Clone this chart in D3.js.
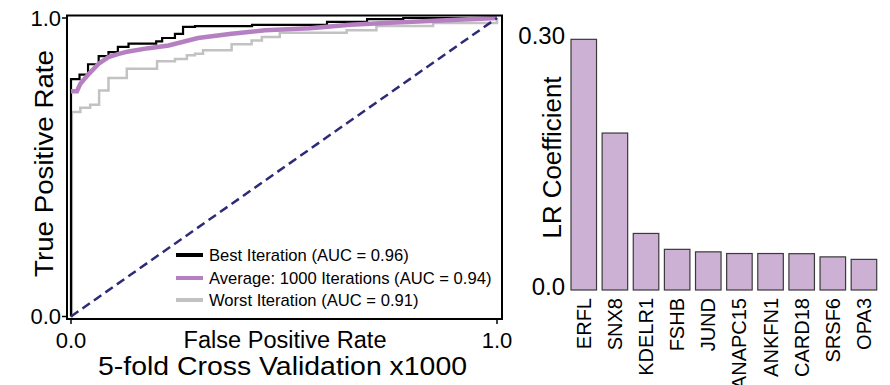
<!DOCTYPE html>
<html>
<head>
<meta charset="utf-8">
<script src="https://cdn.jsdelivr.net/npm/d3@7"></script>
<style>
  body { margin: 0; background: #fff; }
  text { font-family: "Liberation Sans", Arial, Helvetica, sans-serif; fill: #000; }
</style>
</head>
<body>
<div id="chart"></div>
<script>
// ROC curves (false positive rate / true positive rate)
var bestFpr = [0, 0, 0.02, 0.04, 0.065, 0.088, 0.11, 0.135, 0.2, 0.214, 0.244, 0.263, 0.291, 0.425, 0.601, 0.695, 0.78, 1];
var bestTpr = [0, 0.795, 0.81, 0.845, 0.872, 0.886, 0.903, 0.914, 0.922, 0.933, 0.947, 0.97, 0.973, 0.977, 0.987, 0.996, 1, 1];

var avgFpr = [0, 0.014, 0.022, 0.042, 0.065, 0.088, 0.112, 0.135, 0.182, 0.229, 0.298, 0.377, 0.455, 0.561, 0.655, 0.749, 1];
var avgTpr = [0.755, 0.755, 0.78, 0.813, 0.847, 0.869, 0.88, 0.888, 0.899, 0.908, 0.933, 0.947, 0.959, 0.966, 0.977, 0.984, 1];

var worstFpr = [0, 0.002, 0.022, 0.045, 0.066, 0.088, 0.131, 0.202, 0.244, 0.272, 0.291, 0.31, 0.377, 0.424, 0.448, 0.49, 0.647, 0.717, 0.85, 1];
var worstTpr = [0, 0.685, 0.699, 0.709, 0.757, 0.799, 0.83, 0.855, 0.863, 0.875, 0.88, 0.892, 0.912, 0.925, 0.936, 0.951, 0.959, 0.973, 0.983, 1];

var legendLabels = ["Best Iteration (AUC = 0.96)", "Average: 1000 Iterations (AUC = 0.94)", "Worst Iteration (AUC = 0.91)"];

// bar chart
var genes = ["ERFL", "SNX8", "KDELR1", "FSHB", "JUND", "ANAPC15", "ANKFN1", "CARD18", "SRSF6", "OPA3"];
var coefs = [0.299, 0.187, 0.067, 0.048, 0.045, 0.043, 0.043, 0.0428, 0.039, 0.036];
var coefTicks = [0, 0.3];
var coefTickLabels = ["0.0", "0.30"];

var svg = d3.select("#chart")
    .append("svg")
    .attr("width", 890)
    .attr("height", 385);

// ---------- ROC panel ----------
var x = d3.scaleLinear().domain([0, 1]).range([71, 497]);
var y = d3.scaleLinear().domain([0, 1]).range([316.5, 18]);

var roc = svg.append("g");

function pts(fpr, tpr) {
    return fpr.map((f, i) => [f, tpr[i]]);
}

var stepLine = d3.line()
    .x(d => x(d[0]))
    .y(d => y(d[1]))
    .curve(d3.curveStepAfter);

var smoothLine = d3.line()
    .x(d => x(d[0]))
    .y(d => y(d[1]));

roc.append("path")
    .attr("d", stepLine(pts(worstFpr, worstTpr)))
    .attr("fill", "none")
    .attr("stroke", "#c2c2c2")
    .attr("stroke-width", 2.5);

roc.append("path")
    .attr("d", stepLine(pts(bestFpr, bestTpr)))
    .attr("fill", "none")
    .attr("stroke", "#000")
    .attr("stroke-width", 2.2);

roc.append("path")
    .attr("d", smoothLine(pts(avgFpr, avgTpr)))
    .attr("fill", "none")
    .attr("stroke", "#b57fc1")
    .attr("stroke-width", 4.5);

// chance line
roc.append("line")
    .attr("x1", x(0)).attr("y1", y(0))
    .attr("x2", x(1)).attr("y2", y(1))
    .attr("stroke", "#2d2a78")
    .attr("stroke-width", 2.5)
    .attr("stroke-dasharray", "9,5");

// frame
roc.append("rect")
    .attr("x", 67).attr("y", 15.5)
    .attr("width", 435).attr("height", 303.5)
    .attr("fill", "none")
    .attr("stroke", "#000")
    .attr("stroke-width", 2);

// ticks
[0, 1].forEach(function(t) {
    roc.append("line")
        .attr("x1", 62).attr("x2", 67)
        .attr("y1", y(t)).attr("y2", y(t))
        .attr("stroke", "#000").attr("stroke-width", 1.5);
    roc.append("text")
        .attr("x", 61).attr("y", y(t) + 7.5)
        .attr("text-anchor", "end")
        .style("font-size", "22px")
        .text(t.toFixed(1));
    roc.append("line")
        .attr("x1", x(t)).attr("x2", x(t))
        .attr("y1", 319).attr("y2", 324)
        .attr("stroke", "#000").attr("stroke-width", 1.5);
    roc.append("text")
        .attr("x", x(t)).attr("y", 348)
        .attr("text-anchor", "middle")
        .style("font-size", "22px")
        .text(t.toFixed(1));
});

roc.append("text")
    .attr("x", 285).attr("y", 348)
    .attr("text-anchor", "middle")
    .style("font-size", "23px")
    .attr("textLength", 203)
    .attr("lengthAdjust", "spacingAndGlyphs")
    .text("False Positive Rate");

roc.append("text")
    .attr("x", 282.5).attr("y", 375)
    .attr("text-anchor", "middle")
    .style("font-size", "26px")
    .attr("textLength", 369)
    .attr("lengthAdjust", "spacingAndGlyphs")
    .text("5-fold Cross Validation x1000");

roc.append("text")
    .attr("transform", "translate(53,163.5) rotate(-90)")
    .attr("text-anchor", "middle")
    .style("font-size", "25px")
    .attr("textLength", 227)
    .attr("lengthAdjust", "spacingAndGlyphs")
    .text("True Positive Rate");

// legend
var legendColors = ["#000", "#b57fc1", "#c2c2c2"];
var legendY = [255, 278, 300];
legendLabels.forEach(function(lbl, i) {
    roc.append("line")
        .attr("x1", 176).attr("x2", 203)
        .attr("y1", legendY[i]).attr("y2", legendY[i])
        .attr("stroke", legendColors[i])
        .attr("stroke-width", 4);
    roc.append("text")
        .attr("x", 209).attr("y", legendY[i] + 6)
        .style("font-size", "16.6px")
        .text(lbl);
});

// ---------- bar panel ----------
var xBand = d3.scaleBand()
    .domain(genes)
    .range([571, 876.7])
    .paddingInner(0.18)
    .paddingOuter(0);

var yCoef = d3.scaleLinear().domain([0, 0.3]).range([289.5, 38.5]);

var bars = svg.append("g");

bars.selectAll("rect")
    .data(genes)
    .enter()
    .append("rect")
    .attr("x", d => xBand(d))
    .attr("width", xBand.bandwidth())
    .attr("y", (d, i) => yCoef(coefs[i]))
    .attr("height", (d, i) => yCoef(0) - yCoef(coefs[i]) + 0.5)
    .attr("fill", "#cdb1d5")
    .attr("stroke", "#3a3a3a")
    .attr("stroke-width", 1.2);

coefTicks.forEach(function(t, i) {
    bars.append("text")
        .attr("x", 565)
        .attr("y", yCoef(t) + 5.5)
        .attr("text-anchor", "end")
        .style("font-size", "24px")
        .text(coefTickLabels[i]);
});

bars.selectAll(".gene")
    .data(genes)
    .enter()
    .append("text")
    .attr("class", "gene")
    .attr("transform", d => `translate(${xBand(d) + xBand.bandwidth() / 2 + 7},298) rotate(-90)`)
    .attr("text-anchor", "end")
    .style("font-size", "20px")
    .text(d => d);

bars.append("text")
    .attr("transform", "translate(561,157.5) rotate(-90)")
    .attr("text-anchor", "middle")
    .style("font-size", "25px")
    .attr("textLength", 162)
    .attr("lengthAdjust", "spacingAndGlyphs")
    .text("LR Coefficient");
</script>
</body>
</html>
